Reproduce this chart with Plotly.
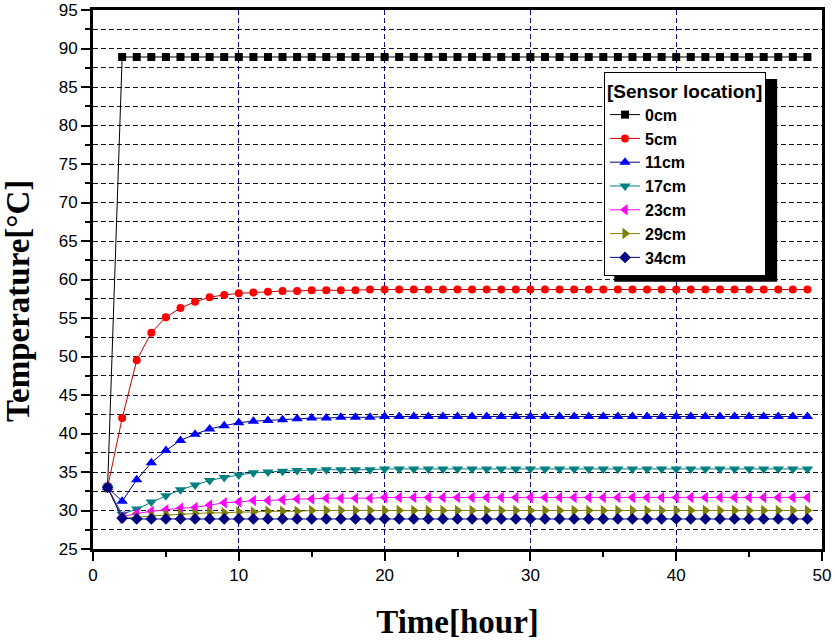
import plotly.graph_objects as go

time = list(range(1, 50))

names = ["0cm", "5cm", "11cm", "17cm", "23cm", "29cm", "34cm"]

t_0cm = [33.0, 88.9, 88.9, 88.9, 88.9, 88.9, 88.9, 88.9, 88.9, 88.9,
         88.9, 88.9, 88.9, 88.9, 88.9, 88.9, 88.9, 88.9, 88.9, 88.9,
         88.9, 88.9, 88.9, 88.9, 88.9, 88.9, 88.9, 88.9, 88.9, 88.9,
         88.9, 88.9, 88.9, 88.9, 88.9, 88.9, 88.9, 88.9, 88.9, 88.9,
         88.9, 88.9, 88.9, 88.9, 88.9, 88.9, 88.9, 88.9, 88.9]
t_5cm = [33.0, 42.0, 49.5, 53.1, 55.1, 56.3, 57.1, 57.7, 58.0, 58.2,
         58.3, 58.4, 58.5, 58.5, 58.6, 58.6, 58.6, 58.6, 58.7, 58.7,
         58.7, 58.7, 58.7, 58.7, 58.7, 58.7, 58.7, 58.7, 58.7, 58.7,
         58.7, 58.7, 58.7, 58.7, 58.7, 58.7, 58.7, 58.7, 58.7, 58.7,
         58.7, 58.7, 58.7, 58.7, 58.7, 58.7, 58.7, 58.7, 58.7]
t_11cm = [33.0, 31.2, 34.0, 36.2, 37.8, 39.1, 39.9, 40.6, 41.0, 41.4,
          41.6, 41.7, 41.8, 41.9, 42.0, 42.0, 42.1, 42.1, 42.1, 42.2,
          42.2, 42.2, 42.2, 42.2, 42.2, 42.2, 42.2, 42.2, 42.2, 42.2,
          42.2, 42.2, 42.2, 42.2, 42.2, 42.2, 42.2, 42.2, 42.2, 42.2,
          42.2, 42.2, 42.2, 42.2, 42.2, 42.2, 42.2, 42.2, 42.2]
t_17cm = [33.0, 29.5, 30.2, 31.1, 31.9, 32.7, 33.3, 33.9, 34.3, 34.6,
          34.9, 35.0, 35.1, 35.2, 35.2, 35.3, 35.3, 35.3, 35.3, 35.4,
          35.4, 35.4, 35.4, 35.4, 35.4, 35.4, 35.4, 35.4, 35.4, 35.4,
          35.4, 35.4, 35.4, 35.4, 35.4, 35.4, 35.4, 35.4, 35.4, 35.4,
          35.4, 35.4, 35.4, 35.4, 35.4, 35.4, 35.4, 35.4, 35.4]
t_23cm = [33.0, 29.2, 29.6, 29.9, 30.1, 30.3, 30.4, 30.7, 31.0, 31.1,
          31.3, 31.3, 31.4, 31.5, 31.5, 31.6, 31.6, 31.6, 31.6, 31.7,
          31.7, 31.7, 31.7, 31.7, 31.7, 31.7, 31.7, 31.7, 31.7, 31.7,
          31.7, 31.7, 31.7, 31.7, 31.7, 31.7, 31.7, 31.7, 31.7, 31.7,
          31.7, 31.7, 31.7, 31.7, 31.7, 31.7, 31.7, 31.7, 31.7]
t_29cm = [33.0, 29.0, 29.1, 29.3, 29.4, 29.5, 29.6, 29.7, 29.7, 29.8,
          29.8, 29.9, 29.9, 29.9, 30.0, 30.0, 30.0, 30.0, 30.0, 30.0,
          30.0, 30.0, 30.0, 30.0, 30.0, 30.0, 30.0, 30.0, 30.0, 30.0,
          30.0, 30.0, 30.0, 30.0, 30.0, 30.0, 30.0, 30.0, 30.0, 30.0,
          30.0, 30.0, 30.0, 30.0, 30.0, 30.0, 30.0, 30.0, 30.0]
t_34cm = [33.0, 29.0, 28.9, 28.9, 28.9, 28.9, 28.9, 28.9, 28.9, 28.9,
          28.9, 28.9, 28.9, 28.9, 28.9, 28.9, 28.9, 28.9, 28.9, 28.9,
          28.9, 28.9, 28.9, 28.9, 28.9, 28.9, 28.9, 28.9, 28.9, 28.9,
          28.9, 28.9, 28.9, 28.9, 28.9, 28.9, 28.9, 28.9, 28.9, 28.9,
          28.9, 28.9, 28.9, 28.9, 28.9, 28.9, 28.9, 28.9, 28.9]

series = [t_0cm, t_5cm, t_11cm, t_17cm, t_23cm, t_29cm, t_34cm]
marker_colors = ["#000000", "#FF0000", "#0000FF", "#008080", "#FF00FF", "#808000", "#000080"]
line_colors = ["#000000", "#C00000", "#000080", "#008080", "#FF00FF", "#808000", "#000080"]
symbols = ["square", "circle", "triangle-up", "triangle-down", "triangle-left", "triangle-right", "diamond"]
marker_sizes = [8, 8, 10, 10, 10, 10, 9]

fig = go.Figure()
for name, vals, mc, lc, sym, ms in zip(names, series, marker_colors, line_colors, symbols, marker_sizes):
    fig.add_trace(go.Scatter(
        x=time, y=vals, name=name, mode="lines+markers",
        line=dict(color=lc, width=1),
        marker=dict(symbol=sym, color=mc, size=ms, line=dict(width=0)),
    ))

tick_font = dict(family="Liberation Sans, Arial", size=17, color="black")
grid_dash = "5px,3px"

fig.update_layout(
    width=835, height=641,
    margin=dict(l=93, r=13, t=10, b=92, autoexpand=False),
    paper_bgcolor="white", plot_bgcolor="white",
    showlegend=True,
    legend=dict(
        x=0.701, y=0.885, xanchor="left", yanchor="top",
        bgcolor="white", bordercolor="black", borderwidth=1,
        font=dict(family="Liberation Sans, Arial", size=16, color="black", weight="bold"),
        title=dict(text="<b>[Sensor location]</b>",
                   font=dict(family="Liberation Sans, Arial", size=19, color="black")),
        tracegroupgap=0,
    ),
    shapes=[dict(type="rect", xref="paper", yref="paper",
                 x0=0.715, x1=0.9385, y0=0.496, y1=0.872,
                 fillcolor="black", line=dict(width=0), layer="above")],
    annotations=[dict(text="<b>Temperature[°C]</b>", xref="paper", yref="paper",
                      x=-0.103, y=0.46, xanchor="center", yanchor="middle",
                      textangle=-90, showarrow=False,
                      font=dict(family="Liberation Serif, Times New Roman", size=33, color="black"))],
)

fig.update_xaxes(
    range=[0, 50], dtick=10, tick0=0, automargin=False,
    showline=True, linecolor="black", linewidth=3, mirror=True,
    ticks="outside", ticklen=9, tickwidth=2, tickcolor="black",
    tickfont=tick_font,
    showgrid=True, gridcolor="#000080", griddash=grid_dash, gridwidth=1,
    zeroline=False,
    minor=dict(dtick=5, ticks="outside", ticklen=5, tickwidth=2, tickcolor="black", showgrid=False),
    title=dict(text="<b>Time[hour]</b>",
               font=dict(family="Liberation Serif, Times New Roman", size=33, color="black"),
               standoff=26),
)
fig.update_yaxes(
    range=[25, 95], dtick=5, tick0=25, automargin=False,
    showline=True, linecolor="black", linewidth=3, mirror=True,
    ticks="outside", ticklen=9, tickwidth=2, tickcolor="black",
    tickfont=tick_font,
    showgrid=True, gridcolor="#101030", griddash=grid_dash, gridwidth=1,
    zeroline=False,
    minor=dict(dtick=2.5, ticks="outside", ticklen=5, tickwidth=2, tickcolor="black",
               showgrid=True, gridcolor="#101030", griddash=grid_dash, gridwidth=1),
)

fig.write_html("out.html", config={"displayModeBar": False},
               post_script="document.body.style.margin='0';")
